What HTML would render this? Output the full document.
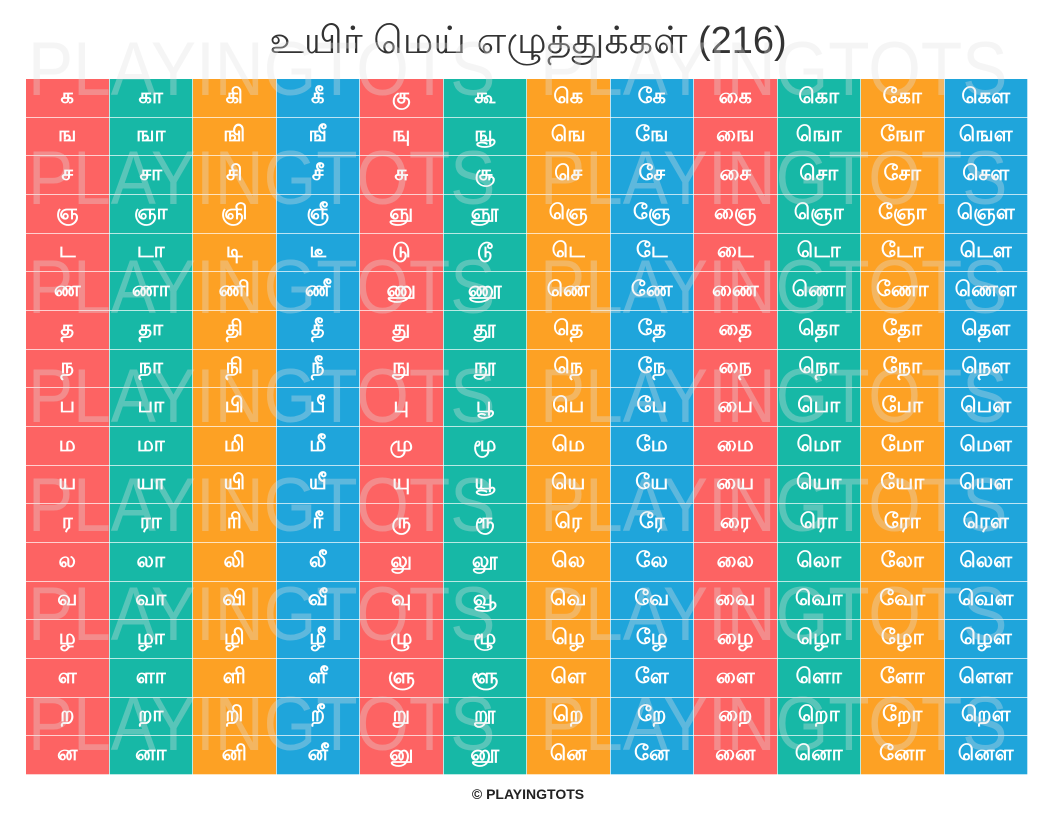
<!DOCTYPE html>
<html><head><meta charset="utf-8"><style>
body{margin:0;width:1056px;height:816px;background:#fff;position:relative;overflow:hidden;font-family:"Liberation Sans","Noto Sans CJK SC",sans-serif}
h1{position:absolute;top:20px;left:0;width:1056px;text-align:center;margin:0;font-weight:normal;font-size:38px;color:#333;font-family:"Liberation Sans","Noto Sans CJK SC",sans-serif}
table{position:absolute;left:25px;top:78px;width:1003px;height:697px;border-collapse:collapse;table-layout:fixed}
td{border:1px solid rgba(255,255,255,0.7);color:#fff;text-align:center;font-size:21px;font-weight:bold;padding:0}
tr td:nth-child(4n+1){background:#fd6363}
tr td:nth-child(4n+2){background:#17b8a6}
tr td:nth-child(4n+3){background:#fda124}
tr td:nth-child(4n){background:#1fa5db}
.wm{position:absolute;font-size:76px;line-height:76px;color:rgba(225,225,225,0.33);white-space:nowrap;pointer-events:none;transform:scaleX(0.89);transform-origin:0 0}
.f{position:absolute;top:786px;left:0;width:1056px;text-align:center;font-size:14px;font-weight:bold;color:#222}
</style></head><body>
<h1>உயிர் மெய் எழுத்துக்கள் (216)</h1>
<table>
<tr><td>க</td><td>கா</td><td>கி</td><td>கீ</td><td>கு</td><td>கூ</td><td>கெ</td><td>கே</td><td>கை</td><td>கொ</td><td>கோ</td><td>கௌ</td></tr>
<tr><td>ங</td><td>ஙா</td><td>ஙி</td><td>ஙீ</td><td>ஙு</td><td>ஙூ</td><td>ஙெ</td><td>ஙே</td><td>ஙை</td><td>ஙொ</td><td>ஙோ</td><td>ஙௌ</td></tr>
<tr><td>ச</td><td>சா</td><td>சி</td><td>சீ</td><td>சு</td><td>சூ</td><td>செ</td><td>சே</td><td>சை</td><td>சொ</td><td>சோ</td><td>சௌ</td></tr>
<tr><td>ஞ</td><td>ஞா</td><td>ஞி</td><td>ஞீ</td><td>ஞு</td><td>ஞூ</td><td>ஞெ</td><td>ஞே</td><td>ஞை</td><td>ஞொ</td><td>ஞோ</td><td>ஞௌ</td></tr>
<tr><td>ட</td><td>டா</td><td>டி</td><td>டீ</td><td>டு</td><td>டூ</td><td>டெ</td><td>டே</td><td>டை</td><td>டொ</td><td>டோ</td><td>டௌ</td></tr>
<tr><td>ண</td><td>ணா</td><td>ணி</td><td>ணீ</td><td>ணு</td><td>ணூ</td><td>ணெ</td><td>ணே</td><td>ணை</td><td>ணொ</td><td>ணோ</td><td>ணௌ</td></tr>
<tr><td>த</td><td>தா</td><td>தி</td><td>தீ</td><td>து</td><td>தூ</td><td>தெ</td><td>தே</td><td>தை</td><td>தொ</td><td>தோ</td><td>தௌ</td></tr>
<tr><td>ந</td><td>நா</td><td>நி</td><td>நீ</td><td>நு</td><td>நூ</td><td>நெ</td><td>நே</td><td>நை</td><td>நொ</td><td>நோ</td><td>நௌ</td></tr>
<tr><td>ப</td><td>பா</td><td>பி</td><td>பீ</td><td>பு</td><td>பூ</td><td>பெ</td><td>பே</td><td>பை</td><td>பொ</td><td>போ</td><td>பௌ</td></tr>
<tr><td>ம</td><td>மா</td><td>மி</td><td>மீ</td><td>மு</td><td>மூ</td><td>மெ</td><td>மே</td><td>மை</td><td>மொ</td><td>மோ</td><td>மௌ</td></tr>
<tr><td>ய</td><td>யா</td><td>யி</td><td>யீ</td><td>யு</td><td>யூ</td><td>யெ</td><td>யே</td><td>யை</td><td>யொ</td><td>யோ</td><td>யௌ</td></tr>
<tr><td>ர</td><td>ரா</td><td>ரி</td><td>ரீ</td><td>ரு</td><td>ரூ</td><td>ரெ</td><td>ரே</td><td>ரை</td><td>ரொ</td><td>ரோ</td><td>ரௌ</td></tr>
<tr><td>ல</td><td>லா</td><td>லி</td><td>லீ</td><td>லு</td><td>லூ</td><td>லெ</td><td>லே</td><td>லை</td><td>லொ</td><td>லோ</td><td>லௌ</td></tr>
<tr><td>வ</td><td>வா</td><td>வி</td><td>வீ</td><td>வு</td><td>வூ</td><td>வெ</td><td>வே</td><td>வை</td><td>வொ</td><td>வோ</td><td>வௌ</td></tr>
<tr><td>ழ</td><td>ழா</td><td>ழி</td><td>ழீ</td><td>ழு</td><td>ழூ</td><td>ழெ</td><td>ழே</td><td>ழை</td><td>ழொ</td><td>ழோ</td><td>ழௌ</td></tr>
<tr><td>ள</td><td>ளா</td><td>ளி</td><td>ளீ</td><td>ளு</td><td>ளூ</td><td>ளெ</td><td>ளே</td><td>ளை</td><td>ளொ</td><td>ளோ</td><td>ளௌ</td></tr>
<tr><td>ற</td><td>றா</td><td>றி</td><td>றீ</td><td>று</td><td>றூ</td><td>றெ</td><td>றே</td><td>றை</td><td>றொ</td><td>றோ</td><td>றௌ</td></tr>
<tr><td>ன</td><td>னா</td><td>னி</td><td>னீ</td><td>னு</td><td>னூ</td><td>னெ</td><td>னே</td><td>னை</td><td>னொ</td><td>னோ</td><td>னௌ</td></tr>
</table>
<div class="wm" style="left:28px;top:32px">PLAYINGTOTS</div><div class="wm" style="left:540px;top:32px">PLAYINGTOTS</div>
<div class="wm" style="left:28px;top:141px">PLAYINGTOTS</div><div class="wm" style="left:540px;top:141px">PLAYINGTOTS</div>
<div class="wm" style="left:28px;top:250px">PLAYINGTOTS</div><div class="wm" style="left:540px;top:250px">PLAYINGTOTS</div>
<div class="wm" style="left:28px;top:359px">PLAYINGTOTS</div><div class="wm" style="left:540px;top:359px">PLAYINGTOTS</div>
<div class="wm" style="left:28px;top:468px">PLAYINGTOTS</div><div class="wm" style="left:540px;top:468px">PLAYINGTOTS</div>
<div class="wm" style="left:28px;top:577px">PLAYINGTOTS</div><div class="wm" style="left:540px;top:577px">PLAYINGTOTS</div>
<div class="wm" style="left:28px;top:687px">PLAYINGTOTS</div><div class="wm" style="left:540px;top:687px">PLAYINGTOTS</div>
<div class="f">© PLAYINGTOTS</div>
</body></html>
